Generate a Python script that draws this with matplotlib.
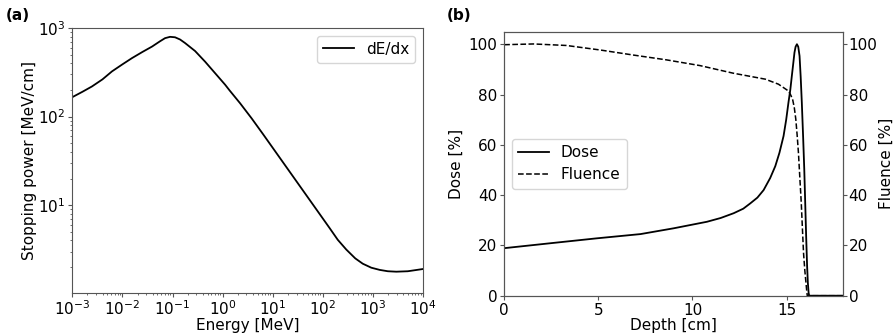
import matplotlib
matplotlib.use("Agg")
import matplotlib.pyplot as plt
import numpy as np

# stopping power, log10 values
log_energy = [-3.0, -2.8, -2.61, -2.4, -2.21, -2.0, -1.81, -1.6, -1.41, -1.25, -1.15, -1.05,
              -0.95, -0.85, -0.75, -0.55, -0.35, -0.15, 0.05, 0.14, 0.35, 0.58, 0.81, 1.475,
              2.14, 2.3, 2.47, 2.65, 2.80, 2.97, 3.14, 3.3, 3.47, 3.7, 4.0]
log_dedx = [2.22, 2.28, 2.34, 2.42, 2.51, 2.59, 2.66, 2.73, 2.79, 2.85, 2.885, 2.90,
            2.895, 2.87, 2.83, 2.74, 2.62, 2.49, 2.36, 2.295, 2.15, 1.98, 1.80, 1.27,
            0.74, 0.61, 0.50, 0.40, 0.34, 0.295, 0.27, 0.255, 0.25, 0.255, 0.28]

# depth profiles
dose_depth = [0.0, 2.5, 4.9, 7.24, 9.0, 10.77, 11.5, 12.19, 12.7, 13.07, 13.45, 13.78, 14.13,
              14.4, 14.62, 14.84, 14.98, 15.1, 15.2, 15.28, 15.35, 15.42, 15.48, 15.55,
              15.62, 15.69, 15.75, 15.81, 15.88, 15.94, 15.99, 16.04, 16.09, 16.13, 16.17,
              16.2, 18.0]
dose = [18.9, 20.9, 22.8, 24.5, 26.8, 29.4, 30.9, 32.8, 34.6, 36.7, 39.0, 42.0, 46.8,
        51.5, 56.8, 63.5, 70.0, 76.8, 82.0, 87.4, 92.0, 96.7, 99.0, 100.0,
        99.0, 95.3, 87.0, 76.8, 63.0, 50.3, 37.0, 23.7, 12.0, 5.2, 1.2,
        0.0, 0.0]
flu_depth = [0.0, 1.56, 3.3, 5.1, 6.85, 8.6, 10.4, 12.15, 13.87, 14.57, 15.1, 15.22, 15.32,
             15.41, 15.49, 15.56, 15.63, 15.7, 15.78, 15.84, 15.9, 15.97, 16.03, 16.07,
             16.1, 18.0]
fluence = [99.8, 100.1, 99.5, 97.7, 95.7, 93.8, 91.5, 88.5, 86.1, 84.1, 81.4, 79.8, 78.1,
           74.8, 70.2, 64.0, 56.9, 47.5, 37.0, 27.0, 17.1, 10.0, 5.2, 2.0,
           0.0, 0.0]

plt.rcParams['font.size'] = 11
spine_col = '#555555'

fig = plt.figure(figsize=(8.94, 3.33), dpi=100)
ax1 = fig.add_axes([0.081, 0.121, 0.392, 0.795])
ax2 = fig.add_axes([0.564, 0.112, 0.379, 0.793])

ax1.plot(10.0 ** np.array(log_energy), 10.0 ** np.array(log_dedx),
         color='black', lw=1.3, label='dE/dx')
ax1.set_xscale('log')
ax1.set_yscale('log')
ax1.set_xlim(1e-3, 1e4)
ax1.set_ylim(1.03, 1e3)
ax1.set_xticks([10.0 ** k for k in range(-3, 5)])
ax1.set_xlabel('Energy [MeV]', labelpad=0)
ax1.set_ylabel('Stopping power [MeV/cm]', labelpad=1)
ax1.legend(loc='upper right')

ax2.plot(dose_depth, dose, color='black', lw=1.3, label='Dose')
ax2.plot(flu_depth, fluence, color='black', lw=1.1, ls='--', label='Fluence')
ax2.set_xlim(0, 18)
ax2.set_ylim(0, 105)
ax2.set_xticks([0, 5, 10, 15])
ax2.set_yticks([0, 20, 40, 60, 80, 100])
ax2.set_xlabel('Depth [cm]', labelpad=0)
ax2.set_ylabel('Dose [%]', labelpad=3)
ax2.legend(loc='center left')
ax3 = ax2.twinx()
ax3.set_ylim(0, 105)
ax3.set_yticks([0, 20, 40, 60, 80, 100])
ax3.set_ylabel('Fluence [%]', labelpad=1)

for ax in (ax1, ax2, ax3):
    for sp in ax.spines.values():
        sp.set_color(spine_col)
    ax.tick_params(which='major', length=3, pad=2, color=spine_col)
    ax.tick_params(which='minor', length=1.5, color=spine_col)
ax3.tick_params(which='major', pad=1)

fig.text(0.006, 0.94, '(a)', fontweight='bold', fontsize=11)
fig.text(0.5, 0.94, '(b)', fontweight='bold', fontsize=11)

fig.savefig('out.png', dpi=100)
